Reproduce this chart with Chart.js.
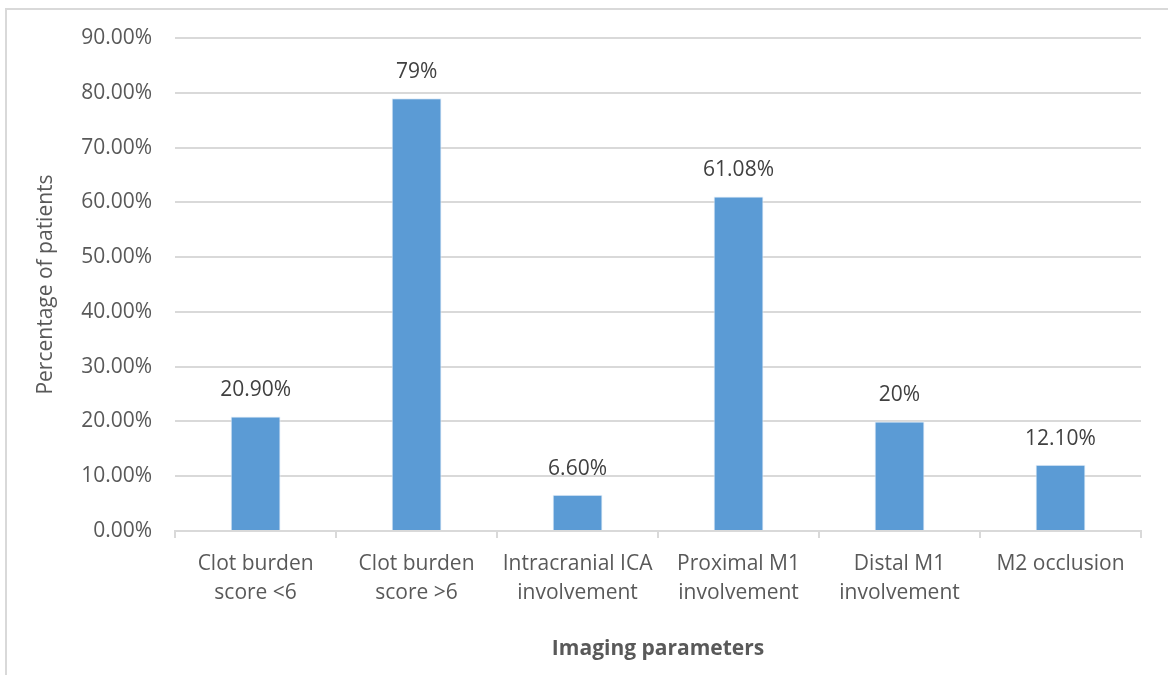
<!DOCTYPE html>
<html>
<head>
<meta charset="utf-8">
<script src="https://cdn.jsdelivr.net/npm/chart.js@4"></script>
<style>
  html, body { margin: 0; padding: 0; background: #ffffff; overflow: hidden; }
  #wrap { position: relative; width: 1168px; height: 675px; }
  #frame { position: absolute; left: 5px; top: 8px; width: 1300px; height: 800px; border: 2px solid #d9d9d9; box-sizing: border-box; }
  canvas { position: absolute; left: 0; top: 0; }
</style>
</head>
<body>
<div id="wrap">
  <div id="frame"></div>
  <canvas id="c" width="1168" height="675"></canvas>
</div>
<script>
const categories = [
  ['Clot burden', 'score <6'],
  ['Clot burden', 'score >6'],
  ['Intracranial ICA', 'involvement'],
  ['Proximal M1', 'involvement'],
  ['Distal M1', 'involvement'],
  ['M2 occlusion']
];
const values = [20.9, 79, 6.6, 61.08, 20, 12.1];
const valueLabels = ['20.90%', '79%', '6.60%', '61.08%', '20%', '12.10%'];
const yTickMax = 90;
const yTickStep = 10;
const yTitle = 'Percentage of patients';
const xTitle = 'Imaging parameters';

const FONT = "'Open Sans', 'DejaVu Sans', sans-serif";

const dataLabelPlugin = {
  id: 'dataLabels',
  afterDatasetsDraw(chart) {
    const ctx = chart.ctx;
    const meta = chart.getDatasetMeta(0);
    ctx.save();
    ctx.font = "21px " + FONT;
    ctx.fillStyle = '#404040';
    ctx.textAlign = 'center';
    ctx.textBaseline = 'middle';
    meta.data.forEach((bar, i) => {
      ctx.fillText(valueLabels[i], bar.x, bar.y - 26);
    });
    ctx.restore();
  }
};

new Chart(document.getElementById('c'), {
  type: 'bar',
  data: {
    labels: categories,
    datasets: [{
      data: values,
      backgroundColor: '#5b9bd5',
      borderColor: '#e4eef8',
      borderWidth: 1,
      categoryPercentage: 1,
      barPercentage: 0.31
    }]
  },
  options: {
    responsive: false,
    animation: false,
    devicePixelRatio: 1,
    layout: { padding: { left: 33, right: 27, top: 38, bottom: 13 } },
    plugins: { legend: { display: false }, tooltip: { enabled: false } },
    scales: {
      x: {
        offset: true,
        grid: { display: true, offset: true, drawOnChartArea: false, color: '#d9d9d9', lineWidth: 2, tickLength: 7 },
        border: { display: true, color: '#d9d9d9', width: 2 },
        ticks: { color: '#595959', font: { family: FONT, size: 21, lineHeight: 1.4 }, padding: 11, maxRotation: 0, autoSkip: false },
        title: { display: true, text: xTitle, color: '#595959', font: { family: FONT, size: 21, weight: 'bold' }, padding: { top: 18, bottom: 0 } }
      },
      y: {
        min: 0,
        max: yTickMax,
        grid: { color: '#d9d9d9', lineWidth: 2, drawTicks: false },
        border: { display: false },
        ticks: {
          stepSize: yTickStep,
          color: '#595959',
          font: { family: FONT, size: 21 },
          padding: 23,
          callback: v => v.toFixed(2) + '%'
        },
        title: { display: true, text: yTitle, color: '#595959', font: { family: FONT, size: 21 }, padding: 0 }
      }
    }
  },
  plugins: [dataLabelPlugin]
});
</script>
</body>
</html>
